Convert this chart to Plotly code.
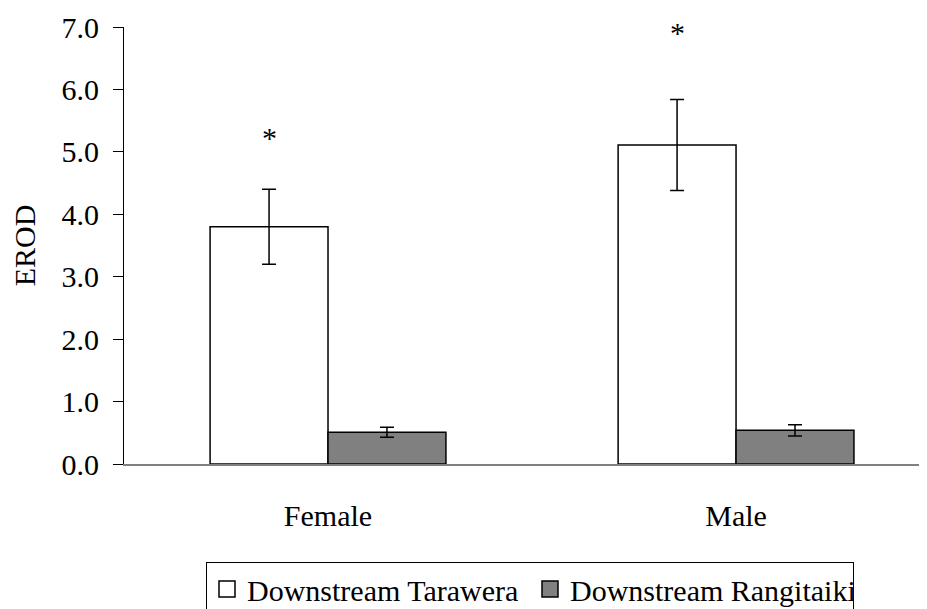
import plotly.graph_objects as go

categories = ["Female", "Male"]
tarawera = [3.80, 5.11]
tarawera_err = [0.60, 0.73]
rangitaiki = [0.51, 0.54]
rangitaiki_err = [0.08, 0.09]
star_y = [5.24, 6.92]
y_ticks = [0, 1, 2, 3, 4, 5, 6, 7]
y_ticklabels = ["0.0", "1.0", "2.0", "3.0", "4.0", "5.0", "6.0", "7.0"]

FONT = "Liberation Serif, Times New Roman, serif"
FS = 30

fig = go.Figure()
fig.add_trace(go.Bar(
    x=categories, y=tarawera, name="Downstream Tarawera",
    marker=dict(color="white", line=dict(color="black", width=1.5)),
    error_y=dict(type="data", array=tarawera_err, color="black", thickness=1.5, width=7),
    showlegend=False,
))
fig.add_trace(go.Bar(
    x=categories, y=rangitaiki, name="Downstream Rangitaiki",
    marker=dict(color="#808080", line=dict(color="black", width=1.5)),
    error_y=dict(type="data", array=rangitaiki_err, color="black", thickness=1.5, width=7),
    showlegend=False,
))
# legend entries
fig.add_trace(go.Scatter(
    x=[None], y=[None], mode="markers", name="Downstream Tarawera",
    marker=dict(symbol="square", size=18, color="white", line=dict(color="black", width=1.5)),
))
fig.add_trace(go.Scatter(
    x=[None], y=[None], mode="markers", name="Downstream Rangitaiki",
    marker=dict(symbol="square", size=18, color="#808080", line=dict(color="black", width=1.5)),
))

for cat, sy in zip(categories, star_y):
    fig.add_annotation(
        x=cat, y=sy, text="*", showarrow=False, xshift=-58.5, yanchor="middle",
        yshift=-1, font=dict(family=FONT, size=FS, color="black"),
    )

# browser body margin of 8px is accounted for: figure drawn 8px smaller
fig.update_layout(
    width=919, height=601,
    margin=dict(l=116, r=0, t=19, b=145, autoexpand=False),
    paper_bgcolor="white", plot_bgcolor="white",
    font=dict(family=FONT, size=FS, color="black"),
    barmode="group", bargap=0.422, bargroupgap=0,
    legend=dict(
        orientation="h", x=82 / 803, xanchor="left", y=-0.2243, yanchor="top",
        bordercolor="black", borderwidth=1, bgcolor="white",
        font=dict(family=FONT, size=FS, color="black"),
        itemsizing="trace", entrywidth=278,
    ),
)
fig.update_xaxes(
    range=[-0.5, 1.468], showline=True, linecolor="#808080", linewidth=2,
    showgrid=False, zeroline=False, ticks="", ticklabelstandoff=24,
    tickfont=dict(family=FONT, size=FS, color="black"),
)
fig.update_yaxes(
    range=[0, 7], tickvals=y_ticks, ticktext=y_ticklabels,
    showline=True, linecolor="black", linewidth=1,
    showgrid=False, zeroline=False, ticks="outside", ticklen=10, tickcolor="black",
    ticklabelstandoff=8, automargin=True,
    tickfont=dict(family=FONT, size=FS, color="black"),
    title=dict(text="EROD", standoff=21, font=dict(family=FONT, size=FS, color="black")),
)

fig.write_html("out.html")
